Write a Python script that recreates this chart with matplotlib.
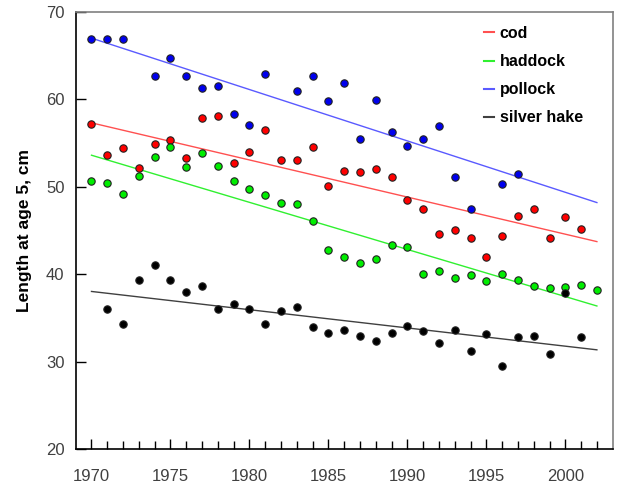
import numpy as np
import matplotlib
matplotlib.use("Agg")
import matplotlib.pyplot as plt

plt.rcParams['font.family'] = ['Liberation Sans', 'DejaVu Sans']

# data (length at age 5, cm)
years = np.arange(1970, 2003)

cod_years = np.arange(1970, 2002)
cod = [57.2, 53.6, 54.4, 52.1, 54.9, 55.3, 53.3, 57.8, 58.1, 52.7,
       54.0, 56.5, 53.1, 53.0, 54.5, 50.1, 51.8, 51.7, 52.0, 51.1,
       48.5, 47.4, 44.6, 45.0, 44.1, 41.9, 44.4, 46.6, 47.4, 44.1,
       46.5, 45.2]

haddock_years = np.arange(1970, 2003)
haddock = [50.7, 50.4, 49.1, 51.2, 53.4, 54.5, 52.3, 53.8, 52.4, 50.6,
           49.7, 49.0, 48.1, 48.0, 46.1, 42.7, 42.0, 41.3, 41.7, 43.3,
           43.1, 40.0, 40.3, 39.5, 39.9, 39.2, 40.0, 39.3, 38.6, 38.4,
           38.5, 38.8, 38.2]

pollock_years = [1970, 1971, 1972, 1974, 1975, 1976, 1977, 1978, 1979, 1980,
                 1981, 1983, 1984, 1985, 1986, 1987, 1988, 1989, 1990, 1991,
                 1992, 1993, 1994, 1996, 1997]
pollock = [66.9, 66.9, 66.9, 62.6, 64.7, 62.6, 61.3, 61.5, 58.3, 57.1,
           62.9, 60.9, 62.6, 59.8, 61.9, 55.5, 59.9, 56.3, 54.7, 55.4,
           56.9, 51.1, 47.4, 50.3, 51.4]

hake_years = np.arange(1971, 2002)
hake = [36.0, 34.3, 39.3, 41.0, 39.3, 38.0, 38.6, 36.0, 36.6, 36.0,
        34.3, 35.8, 36.2, 33.9, 33.3, 33.6, 32.9, 32.4, 33.3, 34.1,
        33.5, 32.1, 33.6, 31.2, 33.1, 29.5, 32.8, 32.9, 30.9, 37.8,
        32.8]

series = [
    ("cod", cod_years, cod, "#ff0000", "#ff5050"),
    ("haddock", haddock_years, haddock, "#00ee00", "#30f030"),
    ("pollock", pollock_years, pollock, "#0000ee", "#5a5aff"),
    ("silver hake", hake_years, hake, "#000000", "#404040"),
]


fig = plt.figure(figsize=(6.17, 4.86), dpi=100)
ax = fig.add_axes([0.1227, 0.076, 0.8703, 0.9])

for name, xs, ys, fill, linecol in series:
    xs = np.asarray(xs, dtype=float)
    ys = np.asarray(ys, dtype=float)
    # linear trend over the whole period
    slope, icpt = np.polyfit(xs, ys, 1)
    ax.plot(years, slope * years + icpt, color=linecol, lw=1.0, label=name, zorder=2)
    ax.scatter(xs, ys, s=28, color=fill, edgecolors="#202020", linewidths=0.8, zorder=3)

ax.set_xlim(1969, 2003)
ax.set_ylim(20, 70)
ax.set_xticks(np.arange(1970, 2001, 5))
ax.set_xticks(years, minor=True)
ax.set_yticks(np.arange(20, 71, 10))
ax.tick_params(axis="both", which="major", direction="in", length=7, width=1,
               labelsize=12, labelcolor="#404040", pad=8)
ax.tick_params(axis="x", which="major", pad=14)
ax.tick_params(axis="x", which="minor", direction="in", length=6, width=1)
ax.tick_params(top=False, right=False)

for side in ["left", "bottom"]:
    ax.spines[side].set_color("black")
    ax.spines[side].set_linewidth(1.2)
for side in ["top", "right"]:
    ax.spines[side].set_color("#808080")
    ax.spines[side].set_linewidth(1.2)

ax.set_ylabel("Length at age 5, cm", fontsize=12.5, fontweight="bold", labelpad=10)

leg = ax.legend(loc="upper left", bbox_to_anchor=(0.733, 1.0), frameon=False,
                handlelength=0.65, handletextpad=0.35, labelspacing=0.82,
                prop={"weight": "bold", "size": 11.5})
for h in leg.get_lines():
    h.set_linewidth(1.5)

fig.savefig("out.png", dpi=100)
